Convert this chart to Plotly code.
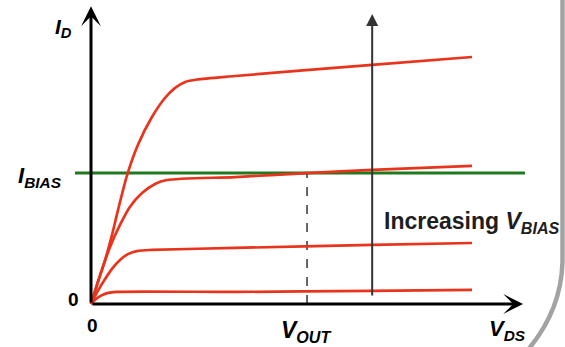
import plotly.graph_objects as go

# ---- data (V_DS in arbitrary volts, I_D in arbitrary units) ----
vds_1 = [0, 0.18, 0.37, 0.55, 0.71, 0.94, 1.23, 1.60, 1.94, 2.20, 2.47, 2.78, 3.78, 7.38, 10]
id_1 = [0, 8.9, 17.8, 27.9, 38.1, 51.8, 64.4, 75.7, 83.4, 87.4, 89.9, 90.9, 92.3, 96.8, 100]

vds_2 = [0, 0.24, 0.50, 0.76, 1.02, 1.34, 1.68, 1.99, 3.78, 5.67, 7.38, 10]
id_2 = [0, 11.7, 23.1, 32.0, 39.3, 44.9, 48.6, 50.2, 51.4, 53.0, 54.3, 55.9]

vds_3 = [0, 0.18, 0.37, 0.55, 0.76, 0.97, 1.23, 1.60, 3.78, 7.38, 10]
id_3 = [0, 5.3, 10.1, 14.2, 17.8, 20.2, 21.5, 21.9, 22.7, 23.9, 24.7]

vds_4 = [0, 0.13, 0.29, 0.45, 0.66, 3.78, 7.38, 10]
id_4 = [0, 2.0, 3.6, 4.5, 4.9, 4.9, 5.3, 5.7]

i_bias = 53.0
bias_x = [-0.42, 11.39]
v_out = 5.67
vbias_arrow_x = 7.38
vbias_arrow_y = [2.8, 117.4]
x_axis_end = 11.34
y_axis_end = 120.5

W, H = 565, 347
# pixel mapping of the data frame
X0PX, X1PX = 91, 472
Y0PX, Y1PX = 304, 57
sx = (X1PX - X0PX) / 10.0
sy = (Y0PX - Y1PX) / 100.0
xrange = [(0 - X0PX) / sx, (W - X0PX) / sx]
yrange = [(Y0PX - H) / sy, (Y0PX - 0) / sy]

RED = "#e8341c"
GREEN = "#1f7a1f"
FONT = "Liberation Sans, Arial, sans-serif"

fig = go.Figure()

# I_BIAS level
fig.add_trace(go.Scatter(x=bias_x, y=[i_bias, i_bias], mode="lines",
                         line=dict(color=GREEN, width=3), hoverinfo="skip"))
# V_OUT dashed marker
fig.add_trace(go.Scatter(x=[v_out, v_out], y=[0, i_bias], mode="lines",
                         line=dict(color="black", width=1.2, dash="dash"), hoverinfo="skip"))

for vx, vy in [(vds_1, id_1), (vds_2, id_2), (vds_3, id_3), (vds_4, id_4)]:
    fig.add_trace(go.Scatter(x=vx, y=vy, mode="lines",
                             line=dict(color=RED, width=2.7, shape="spline", smoothing=0.7),
                             hoverinfo="skip"))

annotations = []
# axes as arrows
annotations.append(dict(x=x_axis_end, y=0, ax=0, ay=0, xref="x", yref="y", axref="x", ayref="y",
                        showarrow=True, arrowhead=3, arrowsize=1.1, arrowwidth=3,
                        arrowcolor="black", text=""))
annotations.append(dict(x=0, y=y_axis_end, ax=0, ay=0, xref="x", yref="y", axref="x", ayref="y",
                        showarrow=True, arrowhead=3, arrowsize=1.1, arrowwidth=3,
                        arrowcolor="black", text=""))
# increasing V_BIAS arrow
annotations.append(dict(x=vbias_arrow_x, y=vbias_arrow_y[1], ax=vbias_arrow_x, ay=vbias_arrow_y[0],
                        xref="x", yref="y", axref="x", ayref="y",
                        showarrow=True, arrowhead=2, arrowsize=1.2, arrowwidth=2,
                        arrowcolor="#333333", text=""))

def lab(x, y, text, size=20, xanchor="center", color="black"):
    annotations.append(dict(x=x, y=y, xref="x", yref="y", text=text, showarrow=False,
                            xanchor=xanchor, yanchor="middle",
                            font=dict(family=FONT, size=size, color=color)))

lab(-0.71, 111.9, "<b><i>I<sub>D</sub></i></b>", 21)
lab(-1.34, 51.4, "<b><i>I<sub>BIAS</sub></i></b>", 22)
lab(-0.47, 2.0, "<b>0</b>", 19)
lab(0.03, -8.5, "<b>0</b>", 19)
lab(5.64, -11.3, "<b><i>V<sub>OUT</sub></i></b>", 23)
lab(10.92, -10.7, "<b><i>V<sub>DS</sub></i></b>", 22)
lab(9.98, 33.2, "<b>Increasing <i>V<sub>BIAS</sub></i></b>", 23, color="#1e1e1e")

# grey rounded frame edge on the right (decoration, pixels -> paper)
def px2paper(px, py):
    return px / W, 1 - py / H

p0 = px2paper(562.5, -5)
p1 = px2paper(562.5, 262)
pc = px2paper(561, 312)
p2 = px2paper(526, 352)
frame_path = f"M {p0[0]},{p0[1]} L {p1[0]},{p1[1]} Q {pc[0]},{pc[1]} {p2[0]},{p2[1]}"

fig.update_layout(
    width=W, height=H, autosize=False,
    margin=dict(l=0, r=0, t=0, b=0, pad=0),
    paper_bgcolor="white", plot_bgcolor="white",
    showlegend=False,
    xaxis=dict(range=xrange, visible=False, fixedrange=True),
    yaxis=dict(range=yrange, visible=False, fixedrange=True),
    annotations=annotations,
    shapes=[dict(type="path", xref="paper", yref="paper", path=frame_path,
                 line=dict(color="#a3a3a3", width=4.5))],
)

fig.write_html(
    "out.html",
    config={"displayModeBar": False},
    post_script=("document.documentElement.style.margin='0';"
                 "document.documentElement.style.overflow='hidden';"
                 "document.body.style.margin='0';"
                 "document.body.style.padding='0';"
                 "document.body.style.overflow='hidden';"),
)
